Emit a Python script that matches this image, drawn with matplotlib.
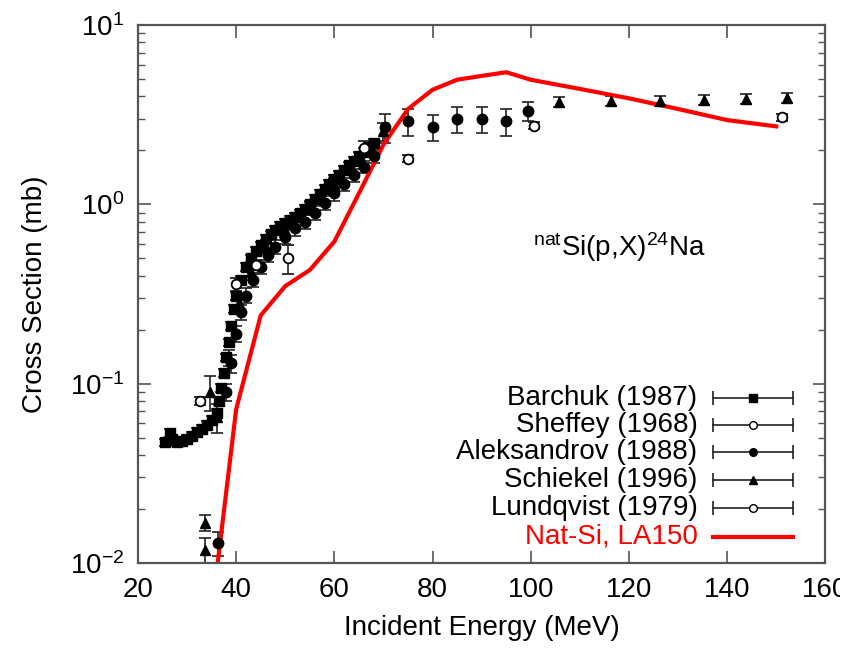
import matplotlib
matplotlib.use("Agg")
import matplotlib.pyplot as plt
from matplotlib.transforms import Bbox

# Barchuk (1987) - filled squares
barchuk_e = [25.5, 26.5, 27.0, 28.0, 29.0, 30.0, 31.0, 32.0, 33.0, 34.0, 35.0, 36.0,
             36.5, 37.0, 37.5, 38.0, 38.5, 39.0, 39.5, 40.0, 41.0, 42.0, 43.0, 44.0,
             45.0, 46.0, 47.0, 48.0, 49.0, 50.0, 51.0, 52.0, 53.0, 54.0, 55.0, 56.0,
             57.0, 58.0, 59.0, 60.0, 61.0, 62.0, 63.0, 64.0, 65.0, 66.0, 67.0, 68.0]
barchuk_s = [0.047, 0.053, 0.049, 0.047, 0.048, 0.049, 0.051, 0.054, 0.056, 0.059, 0.063, 0.069,
             0.080, 0.095, 0.115, 0.14, 0.17, 0.21, 0.26, 0.31, 0.38, 0.45, 0.50, 0.55,
             0.59, 0.64, 0.68, 0.72, 0.76, 0.79, 0.82, 0.85, 0.89, 0.94, 1.00, 1.07,
             1.14, 1.22, 1.30, 1.38, 1.46, 1.55, 1.65, 1.75, 1.86, 1.97, 2.08, 2.20]
barchuk_err = [v * 0.05 for v in barchuk_s]

# Sheffey (1968) - open circles
sheffey_e = [32.6, 40.0, 44.0]
sheffey_s = [0.080, 0.36, 0.46]
sheffey_err = [0.004, 0.03, 0.03]

# Aleksandrov (1988) - filled circles
aleks_e = [36.3, 38.0, 39.0, 40.0, 41.0, 42.0, 43.5, 45.0, 46.5, 48.0, 50.0, 52.0, 54.0,
           56.0, 58.0, 60.0, 62.0, 64.0, 66.0, 68.0, 70.4, 75.0, 80.0, 85.0, 90.0, 95.0, 99.5]
aleks_s = [0.0129, 0.09, 0.13, 0.19, 0.25, 0.31, 0.38, 0.45, 0.52, 0.58, 0.66, 0.74, 0.80,
           0.90, 1.02, 1.15, 1.30, 1.45, 1.62, 1.85, 2.7, 2.9, 2.7, 3.0, 3.0, 2.9, 3.3]
aleks_err = [0.002, 0.01, 0.015, 0.02, 0.025, 0.03, 0.035, 0.04, 0.045, 0.05, 0.06, 0.07, 0.07,
             0.08, 0.09, 0.10, 0.11, 0.12, 0.13, 0.15, 0.5, 0.5, 0.45, 0.5, 0.5, 0.5, 0.4]

# Schiekel (1996) - filled triangles
schiekel_e = [33.7, 33.7, 34.7, 36.1, 38.5, 40.5, 43.0, 46.0, 50.0, 55.0, 60.0, 65.0, 70.0,
              105.7, 116.3, 126.3, 135.3, 143.9, 152.2]
schiekel_s = [0.0168, 0.0118, 0.09, 0.065, 0.14, 0.28, 0.42, 0.58, 0.72, 0.95, 1.3, 1.8, 2.55,
              3.72, 3.77, 3.77, 3.82, 3.87, 3.92]
schiekel_err = [0.0017, 0.002, 0.02, 0.012, 0.015, 0.03, 0.04, 0.05, 0.06, 0.08, 0.1, 0.15, 0.3,
                0.25, 0.25, 0.25, 0.25, 0.25, 0.25]

# Lundqvist (1979) - open circles
lund_e = [50.5, 66.0, 75.0, 100.6, 151.2]
lund_s = [0.50, 2.05, 1.80, 2.75, 3.05]
lund_err = [0.09, 0.2, 0.08, 0.12, 0.15]

# Nat-Si, LA150 evaluation
la150_e = [36.2, 40, 45, 50, 55, 60, 65, 70, 75, 80, 85, 90, 95, 100, 110, 120, 130, 140, 150]
la150_s = [0.0098, 0.072, 0.24, 0.35, 0.43, 0.62, 1.15, 2.15, 3.4, 4.35, 4.95, 5.2, 5.45,
           4.95, 4.4, 3.9, 3.4, 2.95, 2.72]

xticks = [20, 40, 60, 80, 100, 120, 140, 160]

plt.rcParams['font.family'] = ['Liberation Sans', 'DejaVu Sans']
plt.rcParams['mathtext.default'] = 'regular'

fig = plt.figure(figsize=(8.57, 6.52), dpi=100)
ax = fig.add_axes([0.161, 0.1365, 0.802, 0.8252])

ebar = dict(color='black', ecolor='#222222', elinewidth=1.2, capsize=4.5, capthick=1.2,
            linestyle='none')
ax.errorbar(barchuk_e, barchuk_s, yerr=barchuk_err, fmt='s', ms=7, **ebar)
ax.errorbar(aleks_e, aleks_s, yerr=aleks_err, fmt='o', ms=7.5, **ebar)
ax.errorbar(schiekel_e, schiekel_s, yerr=schiekel_err, fmt='^', ms=7, **ebar)
ax.errorbar(sheffey_e, sheffey_s, yerr=sheffey_err, fmt='o', ms=7, mfc='white', mew=1.3, **ebar)
ax.errorbar(lund_e, lund_s, yerr=lund_err, fmt='o', ms=7, mfc='white', mew=1.3, **ebar)
ax.plot(la150_e, la150_s, color='#ff0000', lw=3)

ax.set_yscale('log')
ax.set_xlim(20, 160)
ax.set_ylim(0.01, 10)
ax.set_xticks(xticks)
ax.set_xticklabels([str(t) for t in xticks])
ax.set_yticks([0.01, 0.1, 1, 10])
ax.set_yticklabels(['$10^{-2}$', '$10^{-1}$', '$10^{0}$', '$10^{1}$'])

for s in ax.spines.values():
    s.set_color('#555555')
    s.set_linewidth(1.6)
ax.tick_params(which='major', direction='in', length=9, width=1.2, color='#555555',
               labelsize=20, top=True, right=True, pad=10)
ax.tick_params(which='minor', direction='in', length=5, width=1.0, color='#555555',
               top=True, right=True)
ax.tick_params(axis='x', which='minor', top=False, bottom=False)

ax.set_xlabel('Incident Energy (MeV)', fontsize=20, labelpad=9)
ax.set_ylabel('Cross Section (mb)', fontsize=20, labelpad=16)

ax.text(0.70, 0.587, '$^{nat}$Si(p,X)$^{24}$Na', transform=ax.transAxes,
        fontsize=20, ha='center', va='center')

# legend drawn gnuplot style: label, horizontal error bar, marker
legend_rows = [('Barchuk (1987)', 's', 'black', 'black'),
               ('Sheffey (1968)', 'o', 'white', 'black'),
               ('Aleksandrov (1988)', 'o', 'black', 'black'),
               ('Schiekel (1996)', '^', 'black', 'black'),
               ('Lundqvist (1979)', 'o', 'white', 'black'),
               ('Nat-Si, LA150', None, None, '#ff0000')]
row_y = [0.307, 0.257, 0.206, 0.154, 0.103, 0.049]
for (label, m, fc, col), y in zip(legend_rows, row_y):
    ax.text(0.814, y, label, transform=ax.transAxes, fontsize=20, ha='right',
            va='center', color=col)
    if m is None:
        ax.plot([0.837, 0.953], [y, y], transform=ax.transAxes, color=col, lw=3)
    else:
        ax.plot([0.837, 0.953], [y, y], transform=ax.transAxes, color='#222222', lw=1.2)
        ax.plot([0.837, 0.953], [y, y], transform=ax.transAxes, ls='none', marker='|',
                ms=10, mew=1.2, color='#222222')
        ax.plot([0.895], [y], transform=ax.transAxes, ls='none', marker=m, ms=5.5,
                mfc=fc, mec='black')

# the original picture is cut just right of the axis, clipping the last tick label
fig.canvas.draw()
clip = Bbox.from_extents(0, 0, 840, 652)
for lbl in ax.get_xticklabels():
    lbl.set_clip_on(True)
    lbl.set_clip_box(clip)

fig.savefig('out.png', dpi=100)
